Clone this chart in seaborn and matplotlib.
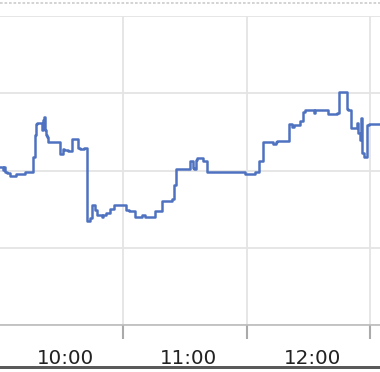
import matplotlib
matplotlib.use("Agg")
import matplotlib.pyplot as plt
from matplotlib.lines import Line2D
from matplotlib.patches import Rectangle
import matplotlib.transforms as mtransforms
import seaborn as sns
import pandas as pd

times = ["09:28:00", "09:31:40", "09:32:08", "09:32:38", "09:33:36", "09:35:04", "09:37:58",
         "09:42:21", "09:46:23", "09:46:58", "09:47:27", "09:48:19", "09:49:58", "09:50:28",
         "09:51:05", "09:51:35", "09:52:18", "09:52:33", "09:52:53", "09:53:40", "09:59:21",
         "10:00:40", "10:01:17", "10:03:23", "10:05:19", "10:08:14", "10:09:04", "10:11:01",
         "10:12:37", "10:13:55", "10:14:45", "10:16:21", "10:17:11", "10:19:45", "10:20:23",
         "10:21:41", "10:23:38", "10:25:35", "10:31:25", "10:32:52", "10:35:47", "10:39:02",
         "10:40:38", "10:45:30", "10:48:45", "10:53:46", "10:54:58", "10:55:28", "11:02:30",
         "11:03:43", "11:04:27", "11:05:11", "11:05:54", "11:08:49", "11:10:46", "11:29:13",
         "11:34:05", "11:36:10", "11:38:07", "11:42:58", "11:44:17", "11:44:55", "11:50:44",
         "11:51:55", "11:53:02", "11:55:56", "11:57:15", "11:58:22", "12:02:30", "12:02:59",
         "12:09:41", "12:13:46", "12:15:02", "12:18:46", "12:19:25", "12:20:43", "12:21:50",
         "12:23:38", "12:24:16", "12:25:05", "12:25:35", "12:26:13", "12:27:02", "12:28:21",
         "12:29:37", "12:36:00"]
values = [51.1, 50.2, 51.1, 49.5, 49.2, 48.2, 48.9,
          49.5, 54.4, 61.5, 65.0, 65.4, 65.4, 63.1,
          66.3, 67.3, 63.1, 61.5, 60.8, 59.2, 55.3,
          57.0, 56.6, 56.3, 60.2, 57.3, 57.0, 57.3,
          33.7, 34.6, 38.8, 37.2, 35.6, 35.0, 35.6,
          36.2, 37.5, 38.8, 37.2, 36.9, 35.0, 35.6,
          35.0, 36.9, 40.1, 40.8, 45.3, 50.5, 53.1,
          50.8, 50.5, 53.4, 54.0, 53.1, 49.5, 48.9,
          49.5, 53.1, 59.2, 58.6, 59.2, 59.5, 65.0,
          64.1, 64.7, 66.0, 68.9, 69.6, 68.6, 69.6,
          68.3, 68.6, 75.4, 69.9, 69.6, 63.8, 63.8,
          65.4, 62.1, 59.9, 67.0, 55.8, 54.4, 64.7,
          65.0, 65.0]
tick_labels = ["10:00", "11:00", "12:00"]
label_times = ["10:00", "11:00", "12:00"]
grid_times = ["10:30", "11:30", "12:30"]

day = "2024-01-01 "
df = pd.DataFrame({"time": pd.to_datetime([day + t for t in times]), "value": values})

sns.set_theme(style="white")
plt.rcParams["font.family"] = ["DejaVu Sans"]

fig = plt.figure(figsize=(3.8, 3.72), dpi=100)
ax = fig.add_axes([0, (372 - 325) / 372, 1, (325 - 16) / 372])

sns.lineplot(data=df, x="time", y="value", ax=ax, color="#4f72c0", linewidth=1.8,
             drawstyle="steps-post")

ax.set_xlim(pd.Timestamp(day + "09:30:12"), pd.Timestamp(day + "12:34:48"))
ax.set_ylim(0, 100)
ax.set_yticks([0, 25, 50, 75, 100])
ax.set_yticklabels([])
ax.tick_params(axis="y", length=0, left=False)

major = [pd.Timestamp(day + t) for t in grid_times]
minor = [pd.Timestamp(day + t) for t in label_times]
ax.set_xticks(major)
ax.set_xticklabels([])
ax.set_xticks(minor, minor=True)
ax.set_xticklabels(tick_labels, minor=True, fontsize=14.3, color="#222222")
ax.tick_params(axis="x", which="major", bottom=True, length=10, width=1.5,
               color="#aaaaaa", direction="out")
ax.tick_params(axis="x", which="minor", bottom=True, length=0, pad=17)
offset = mtransforms.ScaledTranslation(4 / 100, 0, fig.dpi_scale_trans)
for lab in ax.get_xticklabels(minor=True):
    lab.set_transform(lab.get_transform() + offset)

ax.grid(True, which="major", axis="both", color="#e4e4e4", linewidth=1.3)
ax.set_axisbelow(True)
for s in ["top", "left", "right"]:
    ax.spines[s].set_visible(False)
ax.spines["bottom"].set_color("#bbbbbb")
ax.spines["bottom"].set_linewidth(1.2)
ax.set_xlabel("")
ax.set_ylabel("")

fig.add_artist(Line2D([0, 1], [1 - 2.5 / 372, 1 - 2.5 / 372], transform=fig.transFigure,
                      color="#cccccc", linewidth=1.2, linestyle=(0, (1.6, 1.1))))
fig.add_artist(Rectangle((0, 1 - 368.5 / 372), 1, 2.5 / 372, transform=fig.transFigure,
                         color="#5a5a5a", linewidth=0))

fig.savefig("out.png", dpi=100)
